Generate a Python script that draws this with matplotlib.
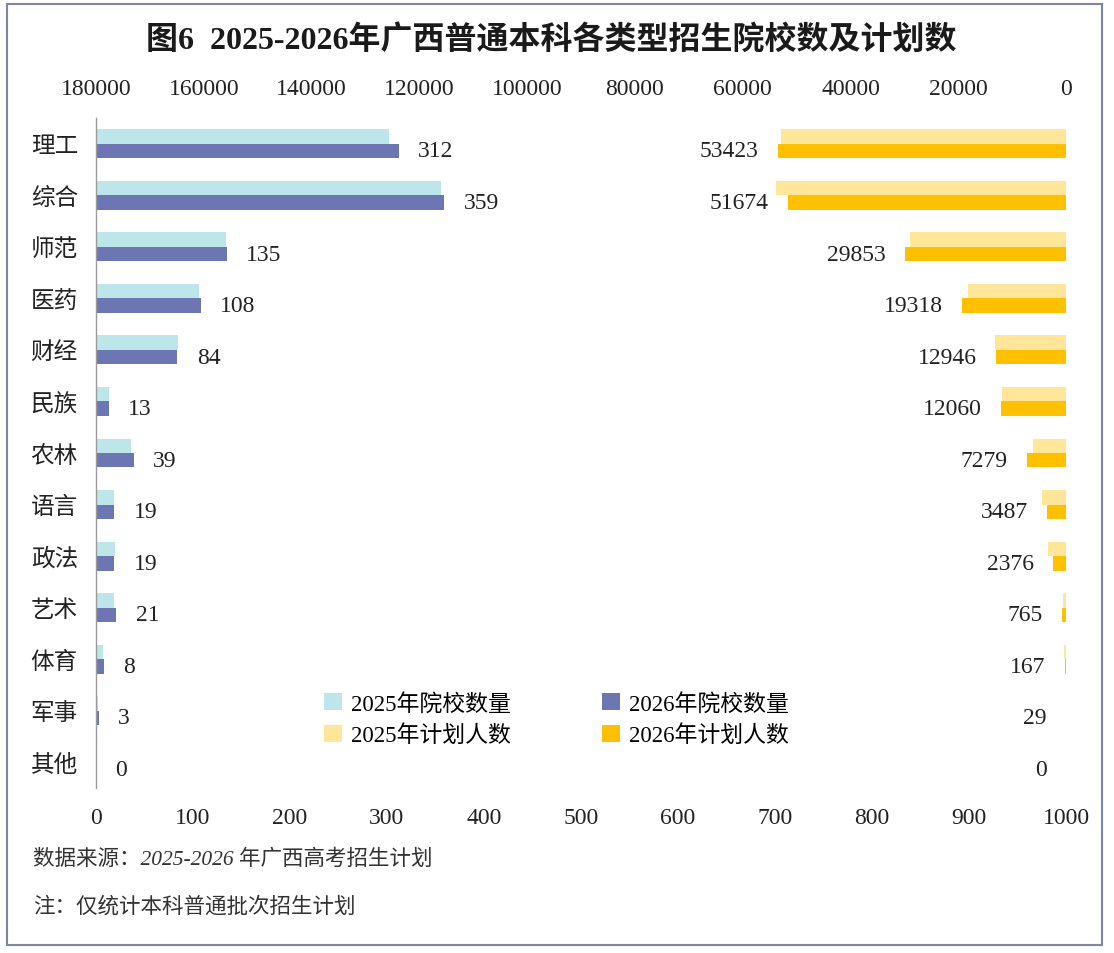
import matplotlib
matplotlib.use('Agg')
import matplotlib.pyplot as plt
from matplotlib.patches import Rectangle

plt.rcParams['font.family'] = ['Liberation Serif', 'Noto Sans CJK SC', 'DejaVu Sans']

cats = ['理工', '综合', '师范', '医药', '财经', '民族', '农林', '语言', '政法', '艺术', '体育', '军事', '其他']
schools_2025 = [302, 356, 134, 106, 85, 13, 36, 19, 20, 19, 7, 2, 0]
schools_2026 = [312, 359, 135, 108, 84, 13, 39, 19, 19, 21, 8, 3, 0]
plan_2025 = [52900, 53750, 28950, 18100, 13100, 11900, 6200, 4400, 3300, 600, 300, 60, 0]
plan_2026 = [53423, 51674, 29853, 19318, 12946, 12060, 7279, 3487, 2376, 765, 167, 29, 0]

c_s25 = '#bde6ea'
c_s26 = '#6b76b3'
c_p25 = '#ffe699'
c_p26 = '#ffc000'

fig = plt.figure(figsize=(11.14, 9.54), dpi=100)
ax = fig.add_axes([96 / 1114, 1 - 789 / 954, 970 / 1114, 670 / 954])
ax2 = ax.twiny()

y = list(range(len(cats)))
h = 0.28
y_top = [v - h / 2 for v in y]
y_bot = [v + h / 2 for v in y]

b1 = ax.barh(y_top, schools_2025, height=h, color=c_s25, label='2025年院校数量')
b2 = ax.barh(y_bot, schools_2026, height=h, color=c_s26, label='2026年院校数量')
b3 = ax2.barh(y_top, plan_2025, height=h, color=c_p25, label='2025年计划人数')
b4 = ax2.barh(y_bot, plan_2026, height=h, color=c_p26, label='2026年计划人数')

ax.set_xlim(0, 1000)
ax2.set_xlim(180000, 0)
ax.set_ylim(len(cats) - 0.5, -0.5)

ax.set_yticks(y)
ax.set_yticklabels(cats, fontsize=17)
ax.set_xticks(range(0, 1001, 100))
ax2.set_xticks(range(0, 180001, 20000))
ax.tick_params(axis='x', length=0, labelsize=17, pad=14, colors='#222222')
ax2.tick_params(axis='x', length=0, labelsize=17, pad=14, colors='#222222')
ax.tick_params(axis='y', length=0, pad=13, colors='#222222')

for a in (ax, ax2):
    for s in a.spines.values():
        s.set_visible(False)
ax.spines['left'].set_visible(True)
ax.spines['left'].set_color('#9a9a9a')
ax.spines['left'].set_linewidth(1.0)

# value labels
for yy, v in zip(y_bot, schools_2026):
    ax.annotate(str(v), (v, yy), xytext=(14, 0), textcoords='offset points',
                ha='left', va='center', fontsize=17, color='#222222')
for yy, v in zip(y_bot, plan_2026):
    ax2.annotate(str(v), (v, yy), xytext=(-14, 0), textcoords='offset points',
                 ha='right', va='center', fontsize=17, color='#222222')

fig.text(0.495, 1 - 41 / 954, '图6  2025-2026年广西普通本科各类型招生院校数及计划数',
         ha='center', va='center', fontsize=23, fontweight='bold', color='#1a1a1a')

fig.legend(handles=[b1, b3, b2, b4], ncol=2, loc='upper left',
           bbox_to_anchor=(313 / 1114, 1 - 682 / 954), frameon=False,
           fontsize=16.5, handlelength=0.75, handleheight=0.75, handletextpad=0.4,
           columnspacing=4.0, labelspacing=0.45, borderpad=0)

fig.text(33 / 1114, 1 - 860 / 954, '数据来源：2025-2026 年广西高考招生计划',
         ha='left', va='center', fontsize=15.5, style='italic', color='#333333')
fig.text(33 / 1114, 1 - 907 / 954, '注：仅统计本科普通批次招生计划',
         ha='left', va='center', fontsize=15.5, style='italic', color='#333333')

fig.patches.append(Rectangle((7 / 1114, 1 - 946 / 954), 1095 / 1114, 941 / 954,
                             transform=fig.transFigure, fill=False,
                             edgecolor='#7f86a3', linewidth=1.5))

fig.savefig('out.png', dpi=100, facecolor='white')
